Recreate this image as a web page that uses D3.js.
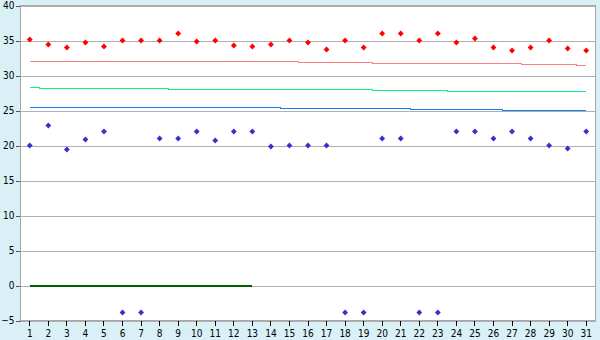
<!DOCTYPE html>
<html>
<head>
<meta charset="utf-8">
<script src="https://cdn.jsdelivr.net/npm/d3@7"></script>
<style>
  body { margin: 0; background: #d9f0f7; }
  svg { display: block; }
  .tick text { font-family: "DejaVu Sans Condensed", "DejaVu Sans", sans-serif; font-stretch: condensed; font-size: 10px; fill: #000; }
</style>
</head>
<body>
<script>
// jours du mois (axe x)
const days = [1, 2, 3, 4, 5, 6, 7, 8, 9, 10, 11, 12, 13, 14, 15, 16,
    17, 18, 19, 20, 21, 22, 23, 24, 25, 26, 27, 28, 29, 30, 31];

// graduations de l'axe y
const yTicks = [-5, 0, 5, 10, 15, 20, 25, 30, 35, 40];

// points rouges (haut)
const redPoints = [35.14, 34.43, 34.0, 34.71, 34.14, 35, 35, 35, 36, 34.86,
    35, 34.29, 34.14, 34.43, 35, 34.71, 33.71, 35, 34.0, 36,
    36, 35, 36, 34.71, 35.29, 34.0, 33.57, 34.0, 35, 33.86, 33.57];

// points bleus (bas)
const bluePoints = [20, 22.86, 19.43, 20.86, 22, -3.86, -3.86, 21, 21, 22,
    20.71, 22, 22, 19.86, 20, 20, 20, -3.86, -3.86, 21,
    21, -3.86, -3.86, 22, 22, 21, 22, 21, 20, 19.57, 22];

// courbes
const pinkLine = [32, 32, 32, 32, 32, 32, 32, 32, 32, 32, 32, 32, 32, 32, 32,
    31.86, 31.86, 31.86, 31.86,
    31.71, 31.71, 31.71, 31.71, 31.71, 31.71, 31.71, 31.71,
    31.57, 31.57, 31.57, 31.43];
const greenLine = [28.29, 28.14, 28.14, 28.14, 28.14, 28.14, 28.14, 28.14,
    28, 28, 28, 28, 28, 28, 28, 28, 28, 28, 28,
    27.86, 27.86, 27.86, 27.86,
    27.71, 27.71, 27.71, 27.71, 27.71, 27.71, 27.71, 27.71];
const blueLine = [25.43, 25.43, 25.43, 25.43, 25.43, 25.43, 25.43, 25.43, 25.43, 25.43, 25.43, 25.43, 25.43, 25.43,
    25.29, 25.29, 25.29, 25.29, 25.29, 25.29, 25.29,
    25.14, 25.14, 25.14, 25.14, 25.14,
    25, 25, 25, 25, 25];
const darkGreenLine = [0, 0, 0, 0, 0, 0, 0, 0, 0, 0, 0, 0, 0,
    null, null, null, null, null, null, null, null, null, null, null, null, null, null, null, null, null, null];

let width = 600, height = 340;
let margin = { top: 5, right: 5, bottom: 20, left: 20 };

let svg = d3.select("body")
    .append("svg")
    .attr("width", width)
    .attr("height", height);

let x = d3.scaleBand()
    .domain(days)
    .range([margin.left, width - margin.right]);

let y = d3.scaleLinear()
    .domain([-5, 40])
    .range([height - margin.bottom, margin.top]);

let cx = d => x(d) + x.bandwidth() / 2;

let g = svg.append("g").attr("transform", "translate(0.5,0.5)");

// fond de la zone de tracé
g.append("rect")
    .attr("x", margin.left)
    .attr("y", margin.top)
    .attr("width", width - margin.left - margin.right)
    .attr("height", height - margin.top - margin.bottom)
    .attr("fill", "#fff");

// grille
g.append("g")
    .attr("transform", "translate(" + margin.left + ",0)")
    .call(d3.axisLeft(y).tickValues(yTicks).tickSize(-(width - margin.left - margin.right)).tickFormat(""))
    .call(s => s.select(".domain").remove())
    .selectAll("line")
    .attr("stroke", "#b0b0b0")
    .attr("shape-rendering", "crispEdges");

// axe y
g.append("g")
    .attr("transform", "translate(" + margin.left + ",0)")
    .call(d3.axisLeft(y).tickValues(yTicks).tickSize(5).tickPadding(1))
    .call(s => s.select(".domain").remove())
    .selectAll("line")
    .attr("stroke", "#555")
    .attr("shape-rendering", "crispEdges");

// axe x
g.append("g")
    .attr("transform", "translate(0," + (height - margin.bottom) + ")")
    .call(d3.axisBottom(x).tickSize(5).tickPadding(4))
    .call(s => s.select(".domain").remove())
    .selectAll("line")
    .attr("stroke", "#000")
    .attr("shape-rendering", "crispEdges");

// cadre
g.append("rect")
    .attr("x", margin.left)
    .attr("y", margin.top)
    .attr("width", width - margin.left - margin.right)
    .attr("height", height - margin.top - margin.bottom)
    .attr("fill", "none")
    .attr("stroke", "#a8a8a8")
    .attr("shape-rendering", "crispEdges");

// lignes
let line = d3.line()
    .defined(d => d[1] !== null)
    .x(d => cx(d[0]))
    .y(d => y(d[1]))
    .curve(d3.curveStep);

[
    [pinkLine, "#ff8080", 1],
    [greenLine, "#10f080", 1],
    [blueLine, "#1080f0", 1],
    [darkGreenLine, "#006000", 2]
].forEach(([values, color, w]) => {
    g.append("path")
        .datum(days.map((d, i) => [d, values[i]]))
        .attr("d", line)
        .attr("fill", "none")
        .attr("stroke", color)
        .attr("stroke-width", w)
        .attr("shape-rendering", "crispEdges");
});

// points
let diamond = d3.symbol(d3.symbolSquare, 17);

[[redPoints, "#ff0000"], [bluePoints, "#3333cc"]].forEach(([values, color]) => {
    g.append("g")
        .selectAll("path")
        .data(days.map((d, i) => [d, values[i]]))
        .enter()
        .append("path")
        .attr("d", diamond)
        .attr("transform", d => "translate(" + cx(d[0]) + "," + y(d[1]) + ") rotate(45)")
        .attr("fill", color);
});
</script>
</body>
</html>
